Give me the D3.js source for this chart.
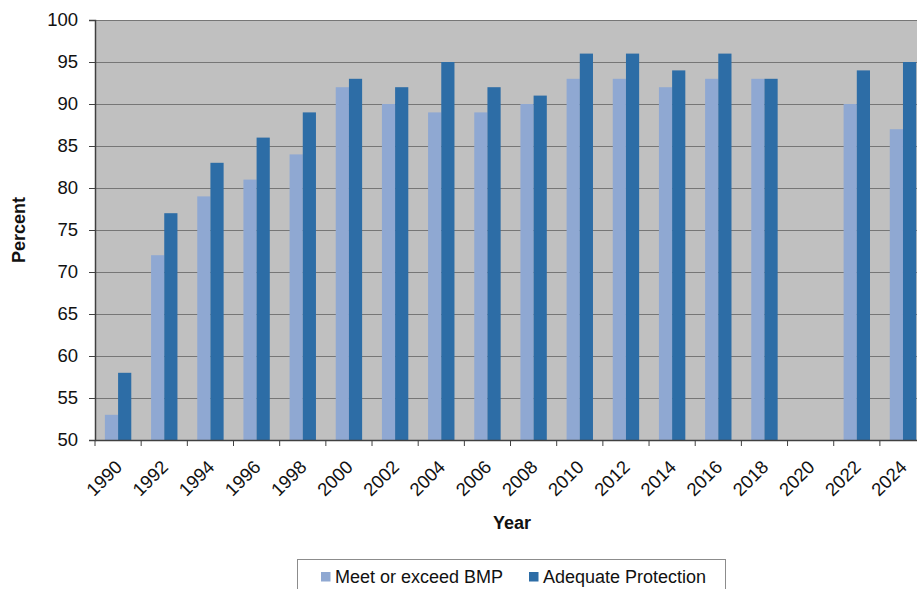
<!DOCTYPE html>
<html>
<head>
<meta charset="utf-8">
<script src="https://cdn.jsdelivr.net/npm/d3@7"></script>
<style>
  body { margin: 0; background: #fff; }
  text { font-family: "Liberation Sans", Arial, sans-serif; fill: #111; }
</style>
</head>
<body>
<div id="chart"></div>
<script>
// ===========Data
var years = ["1990", "1992", "1994", "1996", "1998", "2000", "2002", "2004", "2006",
             "2008", "2010", "2012", "2014", "2016", "2018", "2020", "2022", "2024"];
var meetBMP = [53, 72, 79, 81, 84, 92, 90, 89, 89, 90, 93, 93, 92, 93, 93, null, 90, 87];
var adequate = [58, 77, 83, 86, 89, 93, 92, 95, 92, 91, 96, 96, 94, 96, 93, null, 94, 95];
var seriesNames = ["Meet or exceed BMP", "Adequate Protection"];
var seriesColors = ["#8FA8D2", "#2D6DA6"];
var yTicks = [50, 55, 60, 65, 70, 75, 80, 85, 90, 95, 100];

// ===========Set sizes
var svgWidth = 917;
var svgHeight = 589;
var margin = { top: 20, left: 95, bottom: 149 };
var bandW = 46.17;
var height = svgHeight - margin.top - margin.bottom;

var svg = d3.select("#chart").append("svg")
    .attr("width", svgWidth)
    .attr("height", svgHeight);

// ===========Scales
var x0 = d3.scaleBand()
    .domain(years)
    .range([margin.left, margin.left + bandW * years.length])
    .padding(0);

var x1 = d3.scaleBand()
    .domain(seriesNames)
    .range([0, x0.bandwidth()])
    .paddingInner(0)
    .paddingOuter(0.75);

var y = d3.scaleLinear()
    .domain([50, 100])
    .range([margin.top + height, margin.top]);

// ===========Plot background
svg.append("rect")
    .attr("x", margin.left)
    .attr("y", margin.top)
    .attr("width", x0.range()[1] - margin.left)
    .attr("height", height)
    .attr("fill", "#C0C0C0");

// gridlines
svg.append("g")
    .selectAll("line")
    .data(yTicks.slice(1))
    .enter()
    .append("line")
    .attr("x1", margin.left)
    .attr("x2", x0.range()[1])
    .attr("y1", d => Math.round(y(d)) + 0.5)
    .attr("y2", d => Math.round(y(d)) + 0.5)
    .attr("stroke", "#767676")
    .attr("stroke-width", 1.2);

// ===========Bars
var rows = years.map((yr, i) => ({ year: yr, values: [meetBMP[i], adequate[i]] }));

var groups = svg.append("g")
    .selectAll("g")
    .data(rows)
    .enter()
    .append("g")
    .attr("transform", d => `translate(${x0(d.year)},0)`);

groups.selectAll("rect")
    .data(d => d.values.map((v, j) => ({ name: seriesNames[j], value: v, color: seriesColors[j] }))
        .filter(e => e.value != null))
    .enter()
    .append("rect")
    .attr("x", d => x1(d.name))
    .attr("width", x1.bandwidth())
    .attr("y", d => y(d.value))
    .attr("height", d => y(50) - y(d.value))
    .attr("fill", d => d.color);

// ===========Axes
var leftAxis = d3.axisLeft(y)
    .tickValues(yTicks)
    .tickSize(6)
    .tickPadding(11)
    .tickFormat(d3.format("d"));

var yAxis = svg.append("g")
    .attr("transform", `translate(${margin.left},0)`)
    .call(leftAxis);

yAxis.select(".domain").attr("stroke", "#404040").attr("stroke-width", 1.5);
yAxis.selectAll(".tick line").attr("stroke", "#404040");
yAxis.selectAll(".tick text")
    .attr("font-size", "18.5px")
    .attr("font-family", "Liberation Sans, Arial, sans-serif")
    .attr("fill", "#111");

var bottomAxis = d3.axisBottom(x0)
    .tickSize(0)
    .tickSizeOuter(0);

var xAxis = svg.append("g")
    .attr("transform", `translate(0,${margin.top + height})`)
    .call(bottomAxis);

xAxis.select(".domain").attr("stroke", "#404040").attr("stroke-width", 1.5);
xAxis.selectAll(".tick text")
    .attr("font-size", "18.5px")
    .attr("font-family", "Liberation Sans, Arial, sans-serif")
    .attr("fill", "#111")
    .attr("text-anchor", "end")
    .attr("dy", "0")
    .attr("transform", "translate(3,26) rotate(-45)");

// tick marks at band boundaries
svg.append("g")
    .selectAll("line")
    .data(years)
    .enter()
    .append("line")
    .attr("x1", d => x0(d))
    .attr("x2", d => x0(d))
    .attr("y1", margin.top + height)
    .attr("y2", margin.top + height + 6)
    .attr("stroke", "#404040");

// ===========Axis titles
svg.append("text")
    .attr("transform", `translate(25, 230) rotate(-90)`)
    .attr("text-anchor", "middle")
    .attr("font-size", "18px")
    .attr("font-weight", "bold")
    .text("Percent");

svg.append("text")
    .attr("x", 512)
    .attr("y", 529)
    .attr("text-anchor", "middle")
    .attr("font-size", "18px")
    .attr("font-weight", "bold")
    .text("Year");

// ===========Legend
var legend = svg.append("g");

legend.append("rect")
    .attr("x", 297.5)
    .attr("y", 559.5)
    .attr("width", 428)
    .attr("height", 40)
    .attr("fill", "#fff")
    .attr("stroke", "#8c8c8c");

var legendX = [321, 529];
seriesNames.forEach(function(name, i) {
    legend.append("rect")
        .attr("x", legendX[i])
        .attr("y", 572)
        .attr("width", 9.5)
        .attr("height", 9.5)
        .attr("fill", seriesColors[i]);
    legend.append("text")
        .attr("x", legendX[i] + 14)
        .attr("y", 583)
        .attr("font-size", "18px")
        .text(name);
});
</script>
</body>
</html>
